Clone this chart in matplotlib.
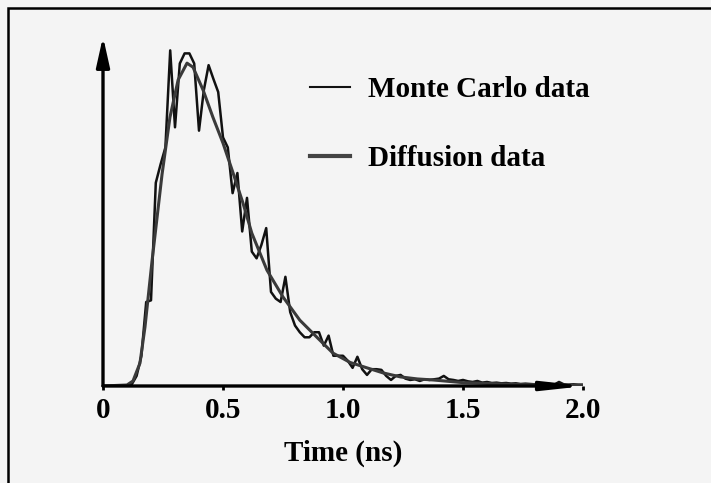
import numpy as np
import matplotlib
matplotlib.use("Agg")
import matplotlib.pyplot as plt
from matplotlib.patches import Rectangle

# Monte Carlo photon counts, sampled every 0.02 ns (normalised to peak)
mc_time = np.round(np.arange(0, 2.0001, 0.02), 2)
mc_vals = [
    0.000, 0.000, 0.000, 0.000, 0.000, 0.000, 0.005, 0.030, 0.090, 0.250,
    0.255, 0.605, 0.660, 0.710, 0.999, 0.770, 0.960, 0.990, 0.990, 0.960,
    0.760, 0.880, 0.955, 0.914, 0.875, 0.740, 0.710, 0.574, 0.634, 0.460,
    0.560, 0.400, 0.380, 0.420, 0.470, 0.280, 0.260, 0.250, 0.325, 0.220,
    0.180, 0.160, 0.145, 0.145, 0.160, 0.160, 0.120, 0.150, 0.090, 0.090,
    0.090, 0.075, 0.054, 0.087, 0.050, 0.033, 0.050, 0.050, 0.048, 0.030,
    0.018, 0.030, 0.033, 0.022, 0.018, 0.020, 0.015, 0.020, 0.018, 0.020,
    0.022, 0.030, 0.020, 0.018, 0.015, 0.018, 0.014, 0.012, 0.015, 0.010,
    0.012, 0.009, 0.010, 0.008, 0.009, 0.007, 0.008, 0.006, 0.007, 0.006,
    0.005, 0.006, 0.005, 0.006, 0.004, 0.012, 0.005, 0.004, 0.005, 0.004,
    0.004,
]

# diffusion model curve
diff_time = [0.00, 0.10, 0.125, 0.154, 0.175, 0.204, 0.225, 0.246, 0.279,
             0.313, 0.350, 0.375, 0.417, 0.458, 0.500, 0.542, 0.583, 0.620,
             0.683, 0.750, 0.820, 0.890, 0.958, 1.030, 1.100, 1.167, 1.240,
             1.310, 1.375, 1.500, 1.750, 2.000]
diff_vals = [0.000, 0.003, 0.015, 0.068, 0.176, 0.370, 0.500, 0.630, 0.800,
             0.911, 0.961, 0.949, 0.881, 0.800, 0.723, 0.634, 0.545, 0.455,
             0.345, 0.265, 0.196, 0.146, 0.098, 0.070, 0.054, 0.039, 0.027,
             0.021, 0.018, 0.010, 0.004, 0.002]

xticks = [0, 0.5, 1.0, 1.5, 2.0]
xtick_labels = ["0", "0.5", "1.0", "1.5", "2.0"]

W, H = 711, 483
FS = 21
plt.rcParams["font.family"] = ["Liberation Serif", "DejaVu Serif"]
plt.rcParams["font.weight"] = "bold"

fig = plt.figure(figsize=(W / 100, H / 100), dpi=100, facecolor="#f4f4f4")
ax = fig.add_axes([103 / W, 1 - 386 / H, 480 / W, (386 - 36.6) / H])
ax.set_facecolor("#f4f4f4")

ax.plot(mc_time, mc_vals, color="#111111", lw=1.8, label="Monte Carlo data")
ax.plot(diff_time, diff_vals, color="#3a3a3a", lw=2.2, label="Diffusion data")

ax.set_xlim(0, 2.0)
ax.set_ylim(0, 1.04)
for s in ax.spines.values():
    s.set_visible(False)

ax.set_yticks([])
ax.set_xticks(xticks)
ax.set_xticklabels(xtick_labels, fontsize=FS, fontweight="bold")
ax.tick_params(axis="x", length=3, width=2, direction="out", pad=5)
ax.set_xlabel("Time (ns)", fontsize=FS, fontweight="bold", labelpad=11)

# axes drawn as arrows
ax.annotate("", xy=(0, 1.04), xytext=(0, 0),
            arrowprops=dict(arrowstyle="-|>,head_width=0.2,head_length=0.9",
                            lw=2.4, color="black", mutation_scale=20,
                            shrinkA=0, shrinkB=0),
            annotation_clip=False)
ax.annotate("", xy=(2.01, 0), xytext=(0, 0),
            arrowprops=dict(arrowstyle="-|>,head_width=0.13,head_length=1.2",
                            lw=2.4, color="black", mutation_scale=20,
                            shrinkA=0, shrinkB=0),
            annotation_clip=False)

leg = ax.legend(loc="center left", bbox_to_anchor=(310 / W, 1 - 124 / H),
                bbox_transform=fig.transFigure, frameon=False, fontsize=FS,
                handlelength=1.37, handletextpad=0.62, labelspacing=1.46,
                borderpad=0, borderaxespad=0)
for t in leg.get_texts():
    t.set_fontweight("bold")
leg.get_lines()[0].set_linewidth(1.5)
leg.get_lines()[1].set_linewidth(3)
leg.get_lines()[1].set_color("#444444")

# frame around the picture (clipped at right and bottom)
fig.patches.append(Rectangle((8 / W, -0.1), 1.2, 1 - 8 / H + 0.1,
                             transform=fig.transFigure, fill=False,
                             lw=1.8, edgecolor="black"))

fig.savefig("out.png", dpi=100, facecolor=fig.get_facecolor())
